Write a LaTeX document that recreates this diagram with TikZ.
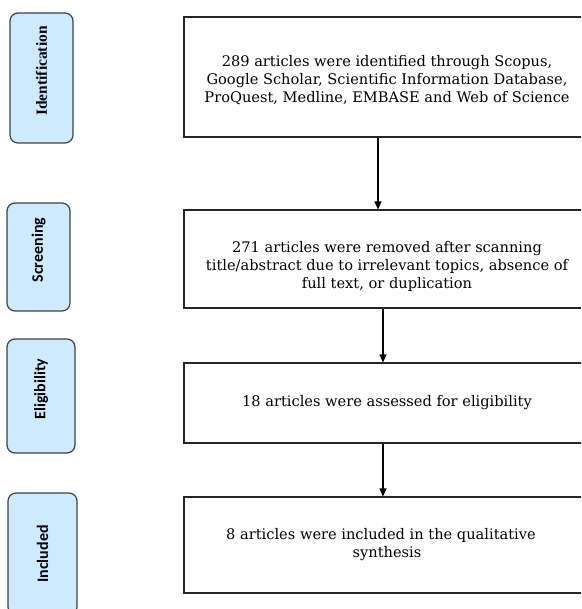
\documentclass[tikz,border=0pt]{standalone}
\usepackage{fontspec}
\setmainfont{DejaVu Serif}
\newfontfamily\fasefont{Carlito}
\newfontfamily\fasefontserif{Liberation Serif}
\usetikzlibrary{arrows.meta}
\definecolor{fasecolor}{RGB}{205,234,255}
\tikzstyle{fase} = [draw=black!75, fill=fasecolor, line width=1.2pt, rectangle, rounded corners=8pt, rotate=90, inner sep=0pt, font=\fasefont\bfseries\fontsize{16}{18}\selectfont]
\tikzstyle{registro} = [draw=black!85, line width=1.1pt, rectangle, minimum width=406pt, align=center, font=\fontsize{14.6}{18}\selectfont]
\tikzstyle{flecha} = [-{Triangle[width=7pt,length=8pt]}, line width=1.1pt]

\begin{document}
\begin{tikzpicture}[x=1pt, y=-1pt]
	\clip (0,0) rectangle (581,609);
	% fases
	\node [fase, minimum width=130pt, minimum height=63pt, font=\fasefontserif\bfseries\fontsize{15.5}{18}\selectfont] (identificacion) at (41.5,78) {\hspace*{14pt}Identification};
	\node [fase, minimum width=108pt, minimum height=63pt] (screening) at (38.5,257) {\hspace*{14pt}Screening};
	\node [fase, minimum width=114pt, minimum height=68pt] (eligibility) at (41,396) {\hspace*{14pt}Eligibility};
	\node [fase, minimum width=122pt, minimum height=69pt] (included) at (42.5,554) {Included};
	% cajas
	\node [registro, minimum height=120pt] (identified) at (387,77) {\rule{0pt}{18pt}289 articles were identified through Scopus,\\Google Scholar, Scientific Information Database,\\ProQuest, Medline, EMBASE and Web of Science};
	\node [registro, minimum height=98pt] (removed) at (387,259) {\rule{0pt}{27pt}271 articles were removed after scanning\\title/abstract due to irrelevant topics, absence of\\full text, or duplication};
	\node [registro, minimum height=80pt] (assessed) at (387,403) {18 articles were assessed for eligibility};
	\node [registro, minimum height=96pt] (synthesis) at (387,545) {8 articles were included in the qualitative\hspace*{12pt}\\synthesis};
	% flechas
	\draw [flecha] ([xshift=-9pt]identified.south) -- ([xshift=-9pt]removed.north);
	\draw [flecha] ([xshift=-4pt]removed.south) -- ([xshift=-4pt]assessed.north);
	\draw [flecha] ([xshift=-4pt]assessed.south) -- ([xshift=-4pt]synthesis.north);
\end{tikzpicture}
\end{document}
